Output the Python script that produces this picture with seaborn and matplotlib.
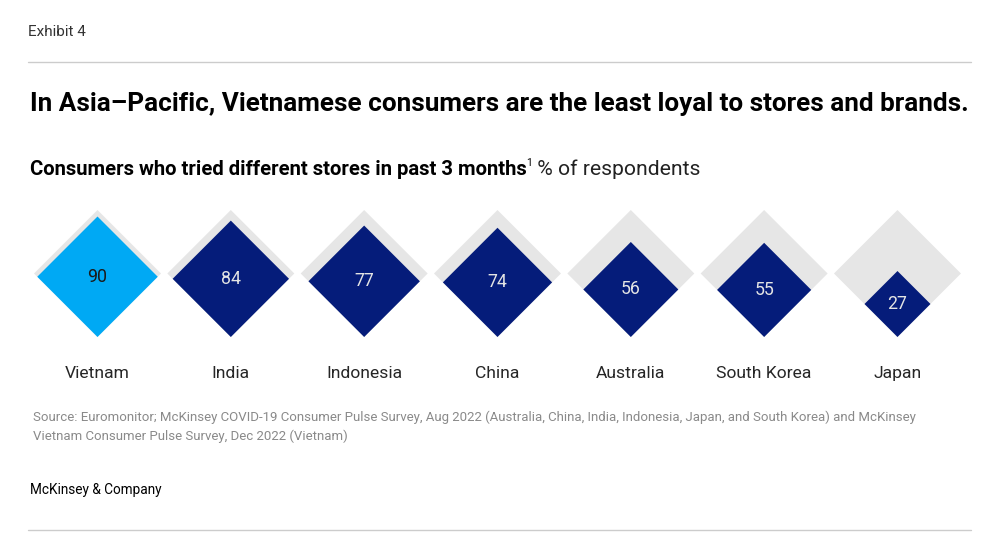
import numpy as np
import matplotlib
matplotlib.use("Agg")
import matplotlib.pyplot as plt
from matplotlib import font_manager
import seaborn as sns

countries = ["Vietnam", "India", "Indonesia", "China", "Australia", "South Korea", "Japan"]
values = [90, 84, 77, 74, 56, 55, 27]
highlight = ["Vietnam"]

title = "In Asia\u2013Pacific, Vietnamese consumers are the least loyal to stores and brands."
subtitle_bold = "Consumers who tried different stores in past 3 months"
subtitle_sup = "1"
subtitle_rest = " % of respondents"
source = ("Source: Euromonitor; McKinsey COVID-19 Consumer Pulse Survey, Aug 2022 (Australia, China, India, Indonesia, Japan, and South Korea) and McKinsey\n"
          "Vietnam Consumer Pulse Survey, Dec 2022 (Vietnam)")
exhibit = "Exhibit 4"
brand = "McKinsey & Company"

sns.set_theme(style="white")
names = {f.name for f in font_manager.fontManager.ttflist}
narrow = "Liberation Sans Narrow" if "Liberation Sans Narrow" in names else "Roboto"
plt.rcParams["font.family"] = [narrow, "DejaVu Sans"]

W, H = 1000, 555
fig = plt.figure(figsize=(W / 100, H / 100), dpi=100)
fig.patch.set_facecolor("white")

def fy(py):
    return 1 - py / H

def fx(px):
    return px / W

# rules
for py in (62, 530):
    fig.add_artist(plt.Line2D([fx(28), fx(971)], [fy(py), fy(py)], color="#cccccc", lw=1))

fig.text(fx(28), fy(32), exhibit, fontsize=11, color="#333333", va="center", ha="left")
fig.text(fx(30), fy(104), title, fontsize=18.8, fontweight="bold", color="#000000", va="center", ha="left")

fig.canvas.draw()
r = fig.canvas.get_renderer()
t1 = fig.text(fx(30), fy(175), subtitle_bold, fontsize=14.6, fontweight="bold", color="#000000", va="baseline", ha="left")
bb = t1.get_window_extent(r)
t2 = fig.text(bb.x1 / W - 0.001, fy(166), subtitle_sup, fontsize=7.5, color="#000000", va="baseline", ha="left")
bb2 = t2.get_window_extent(r)
fig.text(bb2.x1 / W, fy(175), subtitle_rest, fontsize=15.2, color="#222222", va="baseline", ha="left")

fig.text(fx(33), fy(427), source, fontsize=9.55, color="#8a8a8a", va="center", ha="left", linespacing=1.5)
fig.text(fx(30), fy(490), brand, fontsize=9.8, color="#000000", va="center", ha="left")

# diamond axes: pixel rows 200..350, full width
ax = fig.add_axes([0, fy(350), 1, 150 / H])
unit = 133.33  # px per category
x0 = -97.5 / unit
ax.set_xlim(x0, x0 + W / unit)
ax.set_ylim(-13 / unit, (150 - 13) / unit)
ax.set_axis_off()

full_half = 63.5 / unit
for i, (c, v) in enumerate(zip(countries, values)):
    h = full_half
    ax.fill([i - h, i, i + h, i], [h, 0, h, 2 * h], color="#e6e6e6", lw=0)
    s = full_half * np.sqrt(v / 100)
    col = "#00a9f4" if c in highlight else "#051c7a"
    ax.fill([i - s, i, i + s, i], [s, 0, s, 2 * s], color=col, lw=0)
    tc = "#1a1a1a" if c in highlight else "#e4e4e4"
    ax.text(i, s, str(v), ha="center", va="center", fontsize=12.8, color=tc)
    fig.text(fx(97.5 + unit * i), fy(378), c, ha="center", va="baseline", fontsize=12.6,
             color="#262626")

fig.savefig("out.png", dpi=100, facecolor="white")
